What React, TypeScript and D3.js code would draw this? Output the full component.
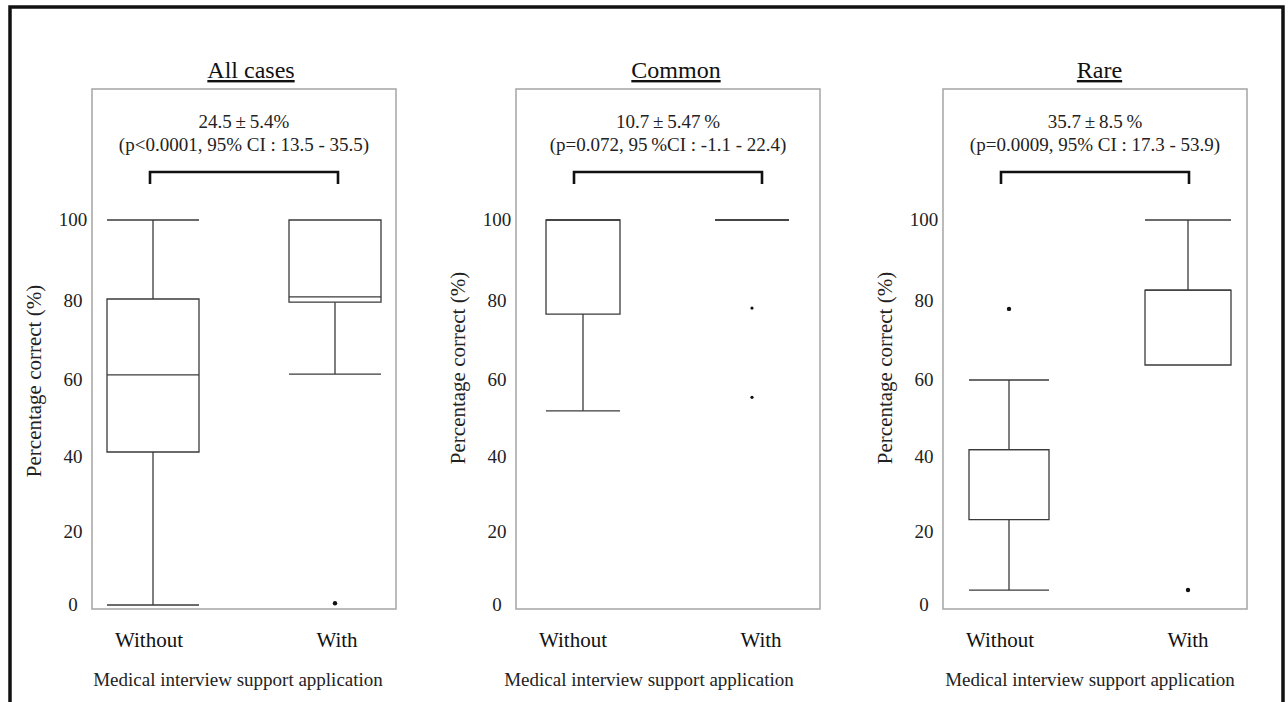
import React from "react";
import * as d3 from "d3";

// ---------- data ----------
const panelTitles = ["All cases", "Common", "Rare"];
const groups = ["Without", "With"];
const diffLines = ["24.5\u2009±\u20095.4%", "10.7\u2009±\u20095.47\u2009%", "35.7\u2009±\u20098.5\u2009%"];
const statLines = [
  "(p<0.0001, 95% CI : 13.5 - 35.5)",
  "(p=0.072, 95\u2009%CI : -1.1 - 22.4)",
  "(p=0.0009, 95% CI : 17.3 - 53.9)",
];
const yTicks = [0, 20, 40, 60, 80, 100];
const yTitle = "Percentage correct (%)";
const xTitle = "Medical interview support application";

type Stat = { min: number; q1: number; median: number; q3: number; max: number; outliers: number[] };

const allCasesStats: Stat[] = [
  { min: 0, q1: 41.3, median: 61.3, q3: 80.5, max: 100, outliers: [] },
  { min: 61.5, q1: 79.7, median: 81, q3: 100, max: 100, outliers: [0.5] },
];
const commonStats: Stat[] = [
  { min: 52, q1: 76.7, median: 100, q3: 100, max: 100, outliers: [] },
  { min: 100, q1: 100, median: 100, q3: 100, max: 100, outliers: [78.2, 55.5] },
];
const rareStats: Stat[] = [
  { min: 4.1, q1: 23.3, median: 41.9, q3: 41.9, max: 60, outliers: [78] },
  { min: 63.8, q1: 63.8, median: 82.7, q3: 82.7, max: 100, outliers: [4.1] },
];
const panelStats = [allCasesStats, commonStats, rareStats];

// ---------- layout ----------
const W = 1288;
const H = 702;
const frameLeft = [92, 516, 943];
const frameW = 304;
const frameTop = 89;
const frameBottom = 609;
const boxRange = [
  [61, 243],
  [67, 236],
  [66, 245],
];
const boxWidths = [
  [92, 92],
  [74, 74],
  [80, 86],
];
const dotR = [2.2, 1.6, 2.2];
const titleOffset = [7, 8, 4.5];
const xTitleOffset = [-6, -19, -5];
const yTitleCenter = [381, 368, 368];

const y = d3.scaleLinear().domain(yTicks).range([605, 532, 457, 380, 301, 220]);

const FONT = "'Liberation Serif', 'Times New Roman', serif";
const BOX = "#3a3a3a";

function Panel({ i }: { i: number }) {
  const fl = frameLeft[i];
  const cx = fl + frameW / 2;
  const xBox = d3.scalePoint<string>().domain(groups).range([fl + boxRange[i][0], fl + boxRange[i][1]]);
  const xLab = d3.scalePoint<string>().domain(groups).range([fl + 57, fl + 245]);
  const stats = panelStats[i];
  const bx0 = cx - 94;
  const bx1 = cx + 94;
  return (
    <g>
      <text
        x={cx + titleOffset[i]}
        y={78}
        textAnchor="middle"
        fontSize={24}
        fill="#111"
        style={{ textDecoration: "underline" }}
      >
        {panelTitles[i]}
      </text>
      <rect x={fl} y={frameTop} width={frameW} height={frameBottom - frameTop} fill="none" stroke="#aaa" strokeWidth={1.6} />
      <text x={cx} y={128} textAnchor="middle" fontSize={19} fill="#222">
        {diffLines[i]}
      </text>
      <text x={cx} y={151} textAnchor="middle" fontSize={19} fill="#222">
        {statLines[i]}
      </text>
      <path
        d={`M${bx0},184 V172 H${bx1} V184`}
        fill="none"
        stroke="#111"
        strokeWidth={2.6}
      />
      {yTicks.map((t) => (
        <text key={t} x={fl - 19} y={y(t)} dy="0.33em" textAnchor="middle" fontSize={19} fill="#222">
          {t}
        </text>
      ))}
      <text
        transform={`translate(${fl - 58},${yTitleCenter[i]}) rotate(-90)`}
        textAnchor="middle"
        dy="0.33em"
        fontSize={21}
        fill="#222"
      >
        {yTitle}
      </text>
      {groups.map((g, k) => {
        const s = stats[k];
        const c = xBox(g)!;
        const hw = boxWidths[i][k] / 2;
        return (
          <g key={g}>
            {s.max > s.q3 && (
              <>
                <line x1={c} x2={c} y1={y(s.q3)} y2={y(s.max)} stroke={BOX} strokeWidth={1.3} />
                <line x1={c - hw} x2={c + hw} y1={y(s.max)} y2={y(s.max)} stroke={BOX} strokeWidth={1.3} />
              </>
            )}
            {s.min < s.q1 && (
              <>
                <line x1={c} x2={c} y1={y(s.q1)} y2={y(s.min)} stroke={BOX} strokeWidth={1.3} />
                <line x1={c - hw} x2={c + hw} y1={y(s.min)} y2={y(s.min)} stroke={BOX} strokeWidth={1.3} />
              </>
            )}
            <path
              d={`M${c - hw},${y(s.q1)} H${c + hw} V${y(s.q3)} H${c - hw} Z`}
              fill="#fff"
              stroke={BOX}
              strokeWidth={1.3}
            />
            <line x1={c - hw} x2={c + hw} y1={y(s.median)} y2={y(s.median)} stroke={BOX} strokeWidth={1.3} />
            {s.outliers.map((o, j) => (
              <circle key={j} cx={c} cy={y(o)} r={dotR[i]} fill="#111" />
            ))}
            <text x={xLab(g)} y={647} textAnchor="middle" fontSize={21} fill="#111">
              {g}
            </text>
          </g>
        );
      })}
      <text x={cx + xTitleOffset[i]} y={686} textAnchor="middle" fontSize={19} fill="#222">
        {xTitle}
      </text>
    </g>
  );
}

export default function App() {
  return (
    <svg
      width={W}
      height={H}
      style={{ position: "absolute", left: 0, top: 0, background: "#fff", fontFamily: FONT }}
    >
      <rect x={0} y={0} width={W} height={H} fill="#fff" />
      <rect x={10} y={7} width={1273} height={730} fill="none" stroke="#111" strokeWidth={3.5} />
      {panelTitles.map((_, i) => (
        <Panel key={i} i={i} />
      ))}
    </svg>
  );
}
